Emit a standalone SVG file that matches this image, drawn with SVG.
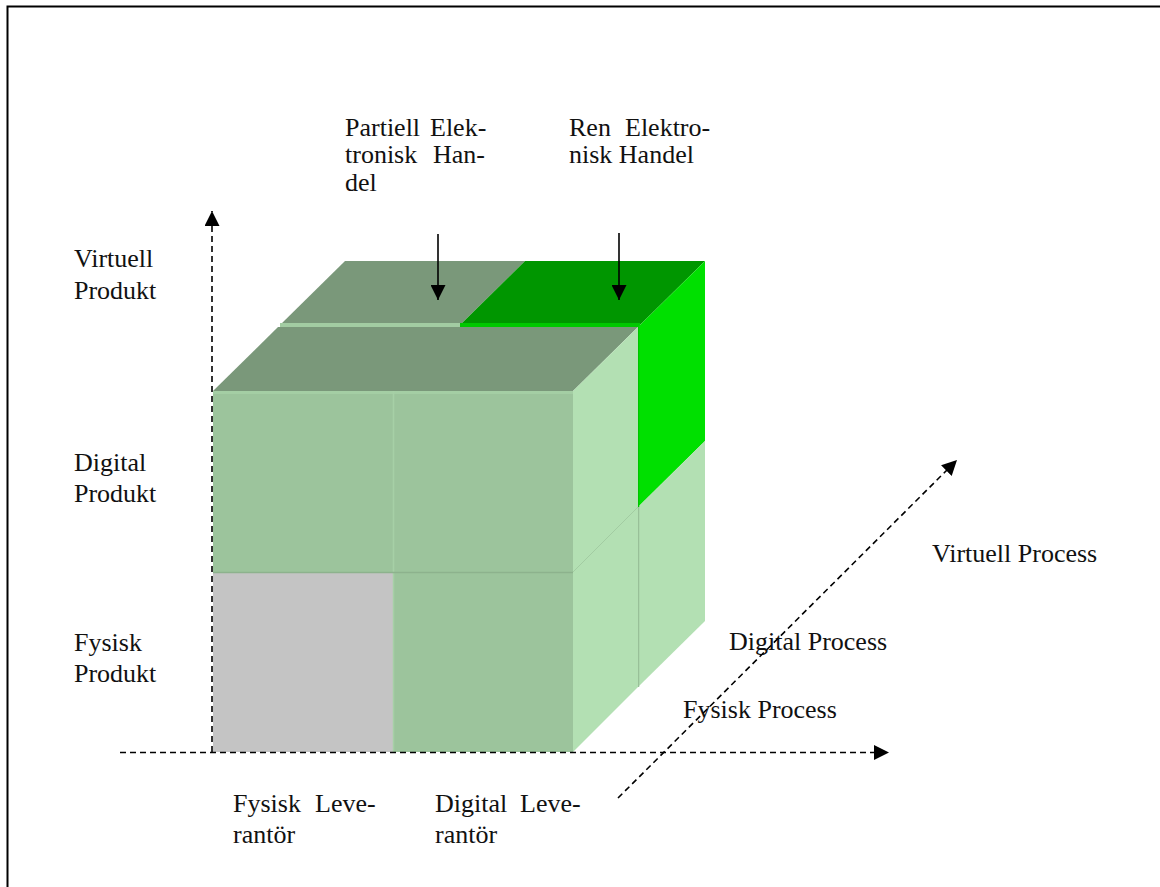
<svg xmlns="http://www.w3.org/2000/svg" width="1160" height="887" viewBox="0 0 1160 887">
  <defs>
    <style>
      .lbl { font-family: "Liberation Serif", "Times New Roman", serif; font-size: 26px; fill: #111; }
      .axis { stroke: #000; stroke-width: 1.6; stroke-dasharray: 6 4; fill: none; }
      .pointer { stroke: #000; stroke-width: 1.6; fill: none; }
      .front { fill: #9cc49c; }
      .topface { fill: #7a987a; }
      .side { fill: #b3e0b3; }
    </style>
    <marker id="tipLarge" viewBox="0 0 14 14" refX="14" refY="7" markerWidth="15" markerHeight="15" markerUnits="userSpaceOnUse" orient="auto">
      <path d="M0,0 L14,7 L0,14 z" fill="#000"/>
    </marker>
  </defs>

  <rect width="1160" height="887" fill="#fff"/>
  <!-- page frame -->
  <path d="M7.5,887 L7.5,6.5 L1160,6.5" fill="none" stroke="#000" stroke-width="2"/>

  <!-- back row of the cube -->
  <g id="back-row">
    <polygon class="topface" points="345,261 525,261 460,325 280,325"/>
    <polygon points="525,261 705,261 640,325 460,325" fill="#009600"/>
    <rect x="280" y="323" width="180" height="4" fill="#a2cca2"/>
    <rect x="460" y="323" width="180" height="4" fill="#00c800"/>
    <polygon points="638,327 705,261 705,441 638,507" fill="#00e000"/>
    <polygon class="side" points="638,507 705,441 705,621 638,687"/>
    <line x1="638.5" y1="327" x2="638.5" y2="507" stroke="#00c400" stroke-width="1.5"/>
    <line x1="638.5" y1="507" x2="638.5" y2="687" stroke="#98c098" stroke-width="1.5"/>
  </g>

  <!-- front block of the cube -->
  <g id="front-block">
    <polygon class="topface" points="278,327 638,327 573,391 213,391"/>
    <polygon class="side" points="573,391 638,327 638,687 573,752"/>
    <line x1="573" y1="572" x2="638" y2="507" stroke="#a2cca2" stroke-width="1"/>
    <rect class="front" x="213" y="391" width="360" height="361"/>
    <rect x="213" y="572" width="180" height="180" fill="#c4c4c4"/>
    <rect x="213" y="391" width="360" height="3" fill="#a4cea4"/>
    <line x1="393.5" y1="391" x2="393.5" y2="752" stroke="#a6d0a6" stroke-width="1.5"/>
    <line x1="213" y1="572.5" x2="573" y2="572.5" stroke="#8db28d" stroke-width="1.5"/>
  </g>

  <!-- product axis labels -->
  <g id="label-virtuell-produkt">
    <text class="lbl" x="74" y="267">Virtuell</text>
    <text class="lbl" x="74" y="299">Produkt</text>
  </g>
  <g id="label-digital-produkt">
    <text class="lbl" x="74" y="471">Digital</text>
    <text class="lbl" x="74" y="502">Produkt</text>
  </g>
  <g id="label-fysisk-produkt">
    <text class="lbl" x="74" y="651">Fysisk</text>
    <text class="lbl" x="74" y="682">Produkt</text>
  </g>

  <!-- supplier axis labels -->
  <g id="label-fysisk-leverantor">
    <text class="lbl" x="233" y="812">Fysisk</text>
    <text class="lbl" x="315" y="812">Leve-</text>
    <text class="lbl" x="233" y="843">rantör</text>
  </g>
  <g id="label-digital-leverantor">
    <text class="lbl" x="435" y="812">Digital</text>
    <text class="lbl" x="520" y="812">Leve-</text>
    <text class="lbl" x="435" y="843">rantör</text>
  </g>

  <!-- process axis labels -->
  <g id="label-virtuell-process">
    <text class="lbl" x="932" y="562">Virtuell Process</text>
  </g>
  <g id="label-digital-process">
    <text class="lbl" x="729" y="650">Digital Process</text>
  </g>
  <g id="label-fysisk-process">
    <text class="lbl" x="683" y="718">Fysisk Process</text>
  </g>

  <!-- commerce labels -->
  <g id="label-partiell">
    <text class="lbl" x="345" y="136">Partiell</text>
    <text class="lbl" x="430" y="136">Elek-</text>
    <text class="lbl" x="345" y="163">tronisk</text>
    <text class="lbl" x="433" y="163">Han-</text>
    <text class="lbl" x="345" y="191">del</text>
  </g>
  <g id="label-ren">
    <text class="lbl" x="569" y="136">Ren</text>
    <text class="lbl" x="625" y="136">Elektro-</text>
    <text class="lbl" x="569" y="163">nisk Handel</text>
  </g>

  <!-- axes and pointer arrows, drawn over the labels -->
  <g id="connectors">
    <line class="axis" x1="212" y1="752" x2="212" y2="211" marker-end="url(#tipLarge)"/>
    <line class="axis" x1="120" y1="752.5" x2="889" y2="752.5" marker-end="url(#tipLarge)"/>
    <line class="axis" x1="618" y1="798" x2="957" y2="460" marker-end="url(#tipLarge)"/>
    <line class="pointer" x1="438" y1="234" x2="438" y2="300" marker-end="url(#tipLarge)"/>
    <line class="pointer" x1="619" y1="233" x2="619" y2="300" marker-end="url(#tipLarge)"/>
  </g>
</svg>
